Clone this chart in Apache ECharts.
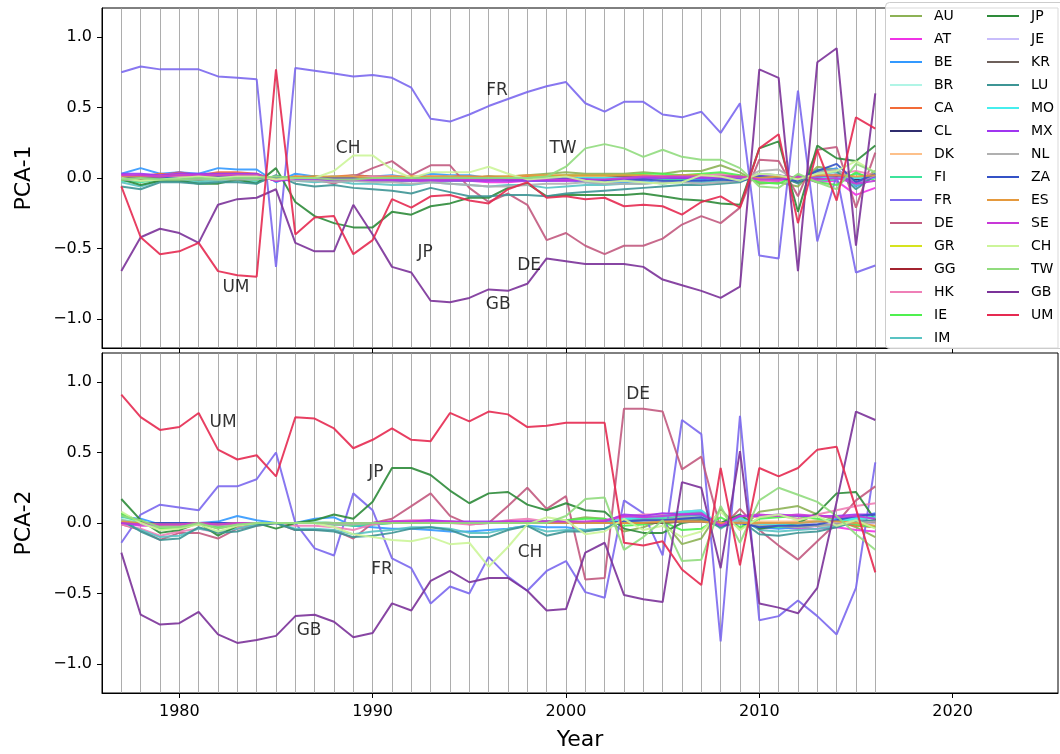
<!DOCTYPE html>
<html>
<head>
<meta charset="utf-8">
<script src="https://cdn.jsdelivr.net/npm/echarts@6/dist/echarts.min.js"></script>
<style>
  html, body { margin: 0; padding: 0; background: #fff; }
  #chart { width: 1060px; height: 754px; }
</style>
</head>
<body>
<div id="chart"></div>
<script>
// years 1977..2016
var years = [1977,1978,1979,1980,1981,1982,1983,1984,1985,1986,1987,1988,1989,1990,1991,1992,1993,1994,1995,1996,
             1997,1998,1999,2000,2001,2002,2003,2004,2005,2006,2007,2008,2009,2010,2011,2012,2013,2014,2015,2016];

var countries = ['AU','AT','BE','BR','CA','CL','DK','FI','FR','DE','GR','GG','HK','IE','IM',
                 'JP','JE','KR','LU','MO','MX','NL','ZA','ES','SE','CH','TW','GB','UM'];

// PCA-1 loadings
var AU1 = [0.01,0.00,-0.01,0.00,0.01,0.00,0.01,0.00, -0.01, 0.00,-0.01,-0.02,-0.01,-0.02,-0.02,-0.01, -0.02,-0.01,0.00,0.01,0.01,0.02,0.03,0.04, 0.03,0.03,0.03,0.04,0.03,0.05,0.05,0.09,0.04, -0.04,-0.03,-0.06,0.08,0.06,-0.04,0.05];
var AT1 = [0.02,0.01,0.02,0.02,0.02,0.02,0.02,0.02, -0.02, 0.01,0.00,0.00,-0.01,-0.01,-0.02,-0.02, -0.02,-0.02,-0.02,-0.03,-0.03,-0.02,-0.02,-0.02, -0.01,-0.01,0.00,0.00,0.01,0.02,0.02,0.01,0.01, -0.02,-0.02,0.01,-0.03,-0.02,-0.12,-0.07];
var BE1 = [0.03,0.07,0.03,0.04,0.03,0.07,0.06,0.06, -0.03, 0.03,0.01,0.00,0.02,0.01,0.02,0.00, 0.03,0.02,0.02,0.00,-0.01,-0.02,-0.02,-0.01, -0.03,-0.04,-0.03,-0.02,-0.04,-0.02,-0.01,-0.03,-0.02, 0.02,0.01,-0.03,0.04,0.07,-0.06,0.01];
var BR1 = [0.01,0.01,0.00,0.01,0.01,0.01,0.00,0.01, -0.01, 0.01,0.00,0.00,0.01,0.00,0.00,0.00, 0.01,0.00,0.00,0.00,0.00,-0.01,0.00,0.00, 0.00,0.00,0.01,0.01,0.01,0.00,0.00,0.00,0.00, 0.01,0.00,0.00,0.01,0.00,0.00,0.01];
var CA1 = [0.02,0.01,0.03,0.02,0.02,0.04,0.04,0.03, -0.02, 0.01,0.00,0.01,0.02,0.01,0.01,0.00, 0.01,0.01,0.01,0.00,0.00,0.01,0.01,0.01, 0.01,0.01,0.00,0.00,0.01,0.00,0.00,0.01,0.00, 0.00,0.00,-0.02,0.01,0.02,-0.01,0.02];
var CL1 = [0.00,0.00,0.00,-0.01,0.00,0.00,0.00,0.00, 0.00, 0.00,0.00,0.00,0.00,-0.01,0.00,0.00, 0.00,0.00,-0.01,0.00,0.00,0.00,0.00,0.00, 0.00,0.00,0.00,0.00,0.00,0.00,0.00,0.00,0.00, 0.00,0.00,-0.03,0.01,0.02,-0.01,0.01];
var DK1 = [0.01,0.00,0.01,0.01,0.00,0.01,0.01,0.01, -0.01, 0.00,0.00,0.01,0.00,0.00,0.01,0.00, 0.00,0.01,0.00,0.00,0.01,0.00,0.00,0.00, 0.01,0.01,0.02,0.02,0.01,0.01,0.01,0.00,0.01, -0.01,0.00,-0.01,0.02,0.01,0.00,0.02];
var FI1 = [-0.02,-0.03,-0.01,-0.01,-0.02,-0.01,-0.01,-0.02, 0.01, 0.00,-0.01,-0.02,-0.01,-0.02,-0.02,-0.02, -0.01,-0.02,-0.02,-0.01,-0.01,0.00,0.00,-0.01, 0.00,-0.01,-0.01,0.00,-0.01,-0.01,0.00,0.00,0.00, 0.01,0.00,0.00,-0.02,-0.01,0.03,0.00];
var FR1 = [0.75,0.79,0.77,0.77,0.77,0.72,0.71,0.70, -0.63, 0.78,0.76,0.74,0.72,0.73,0.71,0.64, 0.42,0.40,0.45,0.51,0.56,0.61,0.65,0.68, 0.53,0.47,0.54,0.54,0.45,0.43,0.47,0.32,0.53, -0.55,-0.57,0.62,-0.45,0.02,-0.67,-0.62];
var DE1 = [0.01,0.02,0.02,0.04,0.02,0.03,0.03,0.02, -0.02, 0.00,-0.01,-0.04,0.01,0.07,0.12,0.02, 0.09,0.09,-0.07,-0.17,-0.11,-0.19,-0.44,-0.39, -0.48,-0.54,-0.48,-0.48,-0.43,-0.33,-0.27,-0.32,-0.21, 0.13,0.12,-0.13,0.20,0.22,-0.21,0.18];
var GR1 = [0.00,0.01,0.00,0.00,0.01,0.00,0.00,0.00, 0.00, 0.00,0.01,0.00,0.00,0.00,0.00,0.01, 0.00,0.00,0.00,0.00,0.00,0.00,0.01,0.00, 0.00,0.00,0.00,0.01,0.00,0.00,0.01,0.00,0.00, 0.00,0.01,0.00,0.00,0.01,0.00,0.00];
var GG1 = [0.00,-0.01,0.01,0.00,0.00,0.01,0.01,0.01, 0.00, 0.00,0.00,0.00,0.00,0.00,0.00,0.00, 0.00,0.00,0.00,0.00,-0.01,0.00,0.00,0.00, 0.00,0.00,0.00,0.00,0.00,0.00,0.00,0.00,0.00, 0.00,0.00,0.00,0.00,0.00,0.00,0.00];
var HK1 = [0.02,0.01,0.02,0.03,0.01,0.02,0.03,0.02, -0.01, 0.00,-0.01,-0.03,0.00,0.01,0.01,0.00, 0.01,0.00,-0.01,0.00,-0.01,0.00,0.00,-0.01, -0.01,-0.02,-0.01,-0.01,0.00,0.01,0.02,0.03,0.01, -0.02,-0.01,0.01,-0.02,0.03,0.05,0.02];
var IE1 = [-0.01,-0.02,0.00,-0.01,-0.01,0.00,0.00,-0.01, 0.01, 0.00,0.00,-0.01,0.00,0.00,-0.01,-0.01, 0.00,0.00,0.00,-0.01,0.00,0.00,0.01,0.02, 0.02,0.02,0.02,0.03,0.03,0.02,0.03,0.04,0.02, -0.03,-0.04,0.02,-0.03,-0.05,0.04,-0.02];
var IM1 = [-0.03,-0.06,-0.02,-0.02,-0.03,-0.02,-0.02,-0.03, 0.01, -0.02,-0.03,-0.02,-0.04,-0.04,-0.05,-0.05, -0.03,-0.04,-0.05,-0.06,-0.05,-0.05,-0.07,-0.06, -0.05,-0.05,-0.04,-0.04,-0.03,-0.03,-0.03,-0.02,-0.02, 0.02,0.02,-0.02,0.03,0.04,-0.05,0.01];
var JP1 = [-0.01,-0.05,-0.02,-0.02,-0.04,-0.04,-0.01,-0.04, 0.07, -0.17,-0.27,-0.32,-0.35,-0.35,-0.24,-0.26, -0.20,-0.18,-0.14,-0.14,-0.07,-0.04,-0.13,-0.12, -0.12,-0.12,-0.12,-0.11,-0.13,-0.15,-0.16,-0.18,-0.19, 0.21,0.26,-0.24,0.23,0.14,0.12,0.23];
var JE1 = [0.01,0.00,0.01,0.01,0.01,0.00,0.01,0.01, -0.01, 0.00,0.00,0.00,0.01,0.00,0.00,0.00, 0.00,0.00,0.00,0.00,0.00,0.00,0.00,0.00, 0.00,0.00,0.00,0.00,0.00,0.00,0.00,0.00,0.00, 0.00,0.00,0.00,0.00,0.00,0.00,0.00];
var KR1 = [0.00,0.01,0.00,0.00,-0.01,0.00,0.00,0.00, 0.00, 0.00,0.01,0.00,0.00,0.00,-0.01,0.00, 0.00,0.00,0.00,0.01,0.00,0.00,0.00,0.00, 0.00,0.00,0.01,0.00,0.00,0.00,0.00,0.01,0.00, 0.00,0.00,-0.01,0.00,0.01,0.00,0.00];
var LU1 = [-0.06,-0.08,-0.03,-0.03,-0.04,-0.03,-0.03,-0.04, 0.02, -0.04,-0.06,-0.05,-0.07,-0.08,-0.09,-0.11, -0.07,-0.10,-0.13,-0.13,-0.12,-0.12,-0.13,-0.11, -0.10,-0.09,-0.08,-0.07,-0.06,-0.05,-0.05,-0.04,-0.03, 0.03,0.02,-0.04,0.06,0.05,-0.08,0.02];
var MO1 = [0.00,0.01,0.00,0.00,0.00,0.01,0.00,0.00, 0.00, 0.00,0.00,0.01,0.00,0.00,0.00,0.00, 0.00,0.01,0.00,0.00,0.00,0.00,0.00,0.00, 0.00,0.00,0.00,0.00,0.00,0.01,0.00,0.00,0.00, 0.00,0.00,0.00,0.01,0.00,0.00,0.00];
var MX1 = [0.03,0.03,0.02,0.03,0.03,0.03,0.03,0.03, -0.02, -0.01,-0.01,-0.02,-0.02,-0.02,-0.02,-0.02, -0.02,-0.02,-0.02,-0.02,-0.02,-0.02,-0.02,-0.02, -0.02,-0.02,-0.01,0.00,0.00,0.00,0.00,0.00,0.00, 0.02,0.02,0.00,0.01,0.02,-0.03,0.01];
var NL1 = [-0.01,-0.02,-0.01,-0.01,-0.01,-0.01,-0.01,-0.01, 0.01, -0.02,-0.02,-0.03,-0.02,-0.03,-0.03,-0.04, -0.03,-0.04,-0.05,-0.06,-0.06,-0.05,-0.04,-0.04, -0.03,-0.04,-0.04,-0.04,-0.03,-0.03,-0.04,-0.03,-0.02, 0.05,0.06,-0.02,0.04,0.06,-0.03,0.02];
var ZA1 = [0.00,0.01,0.00,0.00,0.00,0.01,0.00,0.00, 0.00, 0.00,0.00,0.00,0.00,0.00,0.00,0.00, 0.00,0.00,0.00,0.00,-0.01,-0.01,0.00,0.00, -0.01,-0.02,-0.02,-0.01,-0.02,-0.02,-0.02,-0.01,-0.02, 0.01,0.00,-0.02,0.05,0.10,-0.03,0.03];
var ES1 = [0.01,0.01,0.01,0.02,0.01,0.02,0.02,0.02, -0.01, 0.01,0.01,0.01,0.01,0.00,0.01,0.01, 0.01,0.01,0.01,0.01,0.01,0.02,0.02,0.02, 0.02,0.02,0.02,0.02,0.01,0.02,0.02,0.01,0.01, 0.00,0.01,0.00,0.02,0.02,0.01,0.02];
var SE1 = [0.02,0.02,0.01,0.02,0.02,0.02,0.02,0.02, -0.02, 0.00,0.00,-0.01,-0.01,-0.01,-0.01,-0.01, -0.01,-0.01,-0.01,-0.01,-0.01,-0.01,-0.01,-0.01, -0.01,-0.01,0.00,0.01,0.01,0.01,0.01,0.01,0.01, -0.01,-0.01,0.01,-0.01,0.00,-0.04,-0.02];
var CH1 = [0.00,-0.02,-0.01,0.00,0.01,0.00,0.01,0.01, -0.01, 0.00,0.00,0.05,0.16,0.16,0.06,0.00, 0.04,0.04,0.04,0.08,0.03,-0.01,0.00,0.01, -0.02,-0.03,-0.02,-0.03,-0.04,-0.03,0.02,0.01,-0.02, 0.03,0.02,-0.01,0.03,0.05,0.12,0.04];
var TW1 = [-0.01,0.00,-0.01,-0.01,0.00,-0.01,0.00,0.00, 0.01, 0.00,0.00,-0.01,-0.01,0.00,0.00,0.00, 0.00,0.00,0.00,0.00,0.00,0.00,0.01,0.08, 0.21,0.24,0.21,0.15,0.20,0.15,0.13,0.13,0.07, -0.06,-0.07,0.03,-0.03,-0.08,0.10,0.04];
var GB1 = [-0.66,-0.42,-0.36,-0.39,-0.46,-0.19,-0.15,-0.14, -0.08, -0.46,-0.52,-0.52,-0.19,-0.40,-0.63,-0.67, -0.87,-0.88,-0.85,-0.79,-0.80,-0.75,-0.57,-0.59, -0.61,-0.61,-0.61,-0.63,-0.72,-0.76,-0.80,-0.85,-0.77, 0.77,0.71,-0.66,0.82,0.92,-0.48,0.60];
var UM1 = [-0.06,-0.42,-0.54,-0.52,-0.46,-0.66,-0.69,-0.70, 0.77, -0.40,-0.28,-0.27,-0.54,-0.44,-0.15,-0.21, -0.13,-0.12,-0.16,-0.18,-0.08,-0.03,-0.14,-0.13, -0.15,-0.14,-0.20,-0.19,-0.20,-0.26,-0.17,-0.13,-0.21, 0.21,0.31,-0.32,0.20,-0.16,0.43,0.35];

// PCA-2 loadings
var AU2 = [0.06,0.00,-0.04,-0.03,0.00,-0.04,-0.01,0.00, 0.00, 0.00,0.01,0.00,-0.02,-0.01,0.00,0.00, 0.00,0.01,0.00,0.00,0.01,0.00,0.01,0.02, 0.04,0.03,-0.06,-0.03,0.02,-0.15,-0.11,0.10,-0.05, 0.08,0.10,0.12,0.06,0.02,-0.03,-0.10];
var AT2 = [0.00,-0.02,-0.02,-0.01,0.00,-0.02,0.00,0.00, 0.00, 0.00,0.00,0.00,0.00,0.00,0.00,0.00, 0.00,0.00,0.00,0.00,0.00,0.00,0.00,0.00, 0.00,0.00,0.04,0.03,0.05,0.06,0.08,-0.03,0.04, -0.04,-0.03,-0.04,-0.04,-0.03,-0.05,-0.06];
var BE2 = [0.04,0.03,-0.01,-0.01,0.00,0.01,0.05,0.02, 0.00, 0.00,0.03,0.04,-0.02,-0.03,-0.04,-0.04, -0.05,-0.06,-0.06,-0.05,-0.04,-0.02,-0.03,-0.03, -0.05,-0.04,0.01,0.01,0.02,0.05,0.06,-0.02,0.02, -0.03,-0.04,-0.03,-0.02,0.03,0.04,0.07];
var BR2 = [0.03,0.01,-0.01,0.00,0.00,-0.01,0.00,0.00, 0.00, 0.00,0.01,0.00,0.00,0.00,0.00,0.00, 0.00,0.00,0.00,0.00,0.00,0.00,0.00,0.00, 0.00,0.00,0.02,0.02,0.03,0.04,0.04,-0.01,0.02, -0.01,-0.02,-0.01,-0.01,0.00,0.01,0.00];
var CA2 = [0.01,-0.01,-0.02,-0.02,-0.01,-0.02,-0.01,0.00, 0.00, 0.00,0.00,0.00,0.00,0.00,0.00,0.00, 0.00,0.00,0.00,0.00,0.00,0.00,0.00,0.00, 0.00,0.00,0.01,0.01,0.01,0.02,0.02,0.00,0.01, 0.00,0.00,0.01,0.01,0.00,-0.02,-0.03];
var CL2 = [0.00,0.00,0.00,0.00,0.00,0.00,0.00,0.00, 0.00, 0.00,0.00,0.00,0.00,0.00,0.00,0.00, 0.00,0.00,0.00,0.00,0.00,0.00,0.00,0.00, 0.00,0.00,0.01,0.01,0.01,0.01,0.02,0.00,0.01, -0.02,-0.02,-0.02,-0.01,0.00,0.00,0.02];
var DK2 = [0.02,0.00,-0.01,-0.01,0.00,-0.01,0.00,0.00, 0.00, 0.00,0.00,0.00,0.00,0.00,0.00,0.00, 0.00,0.00,0.00,0.00,0.00,0.00,0.00,0.00, 0.00,0.00,0.01,0.01,0.02,0.02,0.03,-0.01,0.02, 0.01,0.01,0.01,0.02,0.01,0.00,0.01];
var FI2 = [0.05,0.01,-0.03,-0.02,0.00,-0.03,-0.01,0.00, 0.00, 0.00,0.00,-0.01,-0.02,-0.01,0.00,0.00, 0.00,0.00,0.00,0.00,0.00,0.00,0.00,0.00, 0.00,0.00,0.02,0.03,0.03,0.05,0.06,-0.02,0.03, -0.02,-0.03,-0.02,-0.02,0.01,0.03,0.05];
var FR2 = [-0.14,0.06,0.13,0.11,0.09,0.26,0.26,0.31, 0.50, 0.00,-0.18,-0.23,0.21,0.09,-0.25,-0.32, -0.57,-0.45,-0.50,-0.24,-0.38,-0.48,-0.34,-0.27, -0.49,-0.53,0.16,0.07,-0.23,0.73,0.63,-0.84,0.76, -0.69,-0.66,-0.55,-0.66,-0.79,-0.46,0.43];
var DE2 = [-0.01,-0.05,-0.12,-0.07,-0.07,-0.11,-0.04,-0.02, 0.00, -0.05,-0.05,-0.05,-0.11,0.00,0.03,0.12, 0.21,0.05,-0.01,0.00,0.12,0.25,0.10,0.19, -0.40,-0.39,0.81,0.81,0.79,0.38,0.47,-0.04,0.10, -0.05,-0.16,-0.26,-0.13,0.00,0.16,0.26];
var GR2 = [0.02,0.00,-0.01,0.00,0.00,-0.01,0.00,0.00, 0.00, 0.00,0.00,0.00,0.00,0.00,0.00,0.00, 0.00,0.00,0.00,0.00,0.00,0.00,0.00,0.00, 0.00,0.00,0.01,0.00,0.01,0.01,0.02,0.00,0.01, 0.00,0.00,0.00,0.00,0.00,0.00,0.00];
var GG2 = [0.01,0.00,0.00,0.00,0.00,0.00,0.00,0.00, 0.00, 0.00,0.00,0.00,0.00,0.00,0.00,0.00, 0.00,0.00,0.00,0.00,0.00,0.00,0.00,0.00, 0.00,0.00,0.00,0.00,0.00,0.01,0.01,0.00,0.00, 0.00,0.00,0.00,0.00,0.00,0.00,0.00];
var HK2 = [-0.01,-0.04,-0.09,-0.06,-0.04,-0.07,-0.03,-0.01, 0.00, -0.02,-0.02,-0.03,-0.05,-0.01,0.01,0.02, 0.02,0.00,-0.01,0.00,0.02,0.03,0.01,0.02, 0.00,0.01,0.05,0.06,0.06,0.08,0.09,-0.03,0.05, 0.04,0.05,0.03,0.06,0.09,0.12,0.14];
var IE2 = [0.07,0.01,-0.04,-0.03,0.00,-0.03,-0.01,0.00, 0.00, 0.00,0.00,-0.01,-0.01,0.00,0.00,0.00, 0.00,0.00,0.00,0.00,0.00,0.01,0.01,0.02, 0.03,0.03,-0.02,-0.01,0.01,-0.05,-0.04,0.04,-0.03, 0.03,0.04,0.05,0.03,0.01,-0.01,-0.03];
var IM2 = [0.01,-0.05,-0.10,-0.09,-0.04,-0.06,-0.04,-0.01, 0.00, -0.04,-0.04,-0.05,-0.08,-0.06,-0.05,-0.03, -0.03,-0.04,-0.07,-0.07,-0.04,-0.02,-0.06,-0.05, -0.05,-0.04,0.03,0.03,0.04,0.07,0.08,-0.04,0.04, -0.05,-0.06,-0.05,-0.04,-0.02,0.02,0.04];
var JP2 = [0.17,0.02,-0.07,-0.05,0.00,-0.09,-0.02,0.00, -0.04, 0.00,0.02,0.06,0.03,0.15,0.39,0.39, 0.34,0.23,0.14,0.21,0.22,0.13,0.09,0.14, 0.09,0.08,-0.04,-0.07,-0.07,0.00,0.02,0.00,0.06, -0.04,-0.02,0.00,0.07,0.21,0.22,0.02];
var JE2 = [0.01,0.00,0.00,0.00,0.00,0.00,0.00,0.00, 0.00, 0.00,0.00,0.00,0.00,0.00,0.00,0.00, 0.00,0.00,0.00,0.00,0.00,0.00,0.00,0.00, 0.00,0.00,0.00,0.01,0.01,0.01,0.01,0.00,0.00, 0.00,0.00,0.00,0.00,0.00,0.00,0.00];
var KR2 = [0.00,0.00,0.00,0.00,0.00,0.00,0.00,0.00, 0.00, 0.00,0.00,0.00,0.00,0.00,0.00,0.00, 0.00,0.00,0.00,0.00,0.00,0.00,0.00,0.00, 0.00,0.00,0.00,0.00,0.00,0.01,0.01,-0.01,0.00, -0.02,-0.02,-0.03,-0.02,-0.01,0.00,0.01];
var LU2 = [0.02,-0.06,-0.12,-0.11,-0.03,-0.07,-0.06,-0.02, 0.00, -0.05,-0.05,-0.06,-0.10,-0.09,-0.07,-0.04, -0.03,-0.05,-0.10,-0.10,-0.05,-0.02,-0.09,-0.06, -0.06,-0.04,0.01,0.02,0.02,0.03,0.03,-0.03,0.02, -0.08,-0.09,-0.07,-0.06,-0.03,0.01,0.02];
var MO2 = [0.02,0.00,-0.01,-0.01,0.00,-0.01,0.00,0.00, 0.00, 0.00,0.00,0.00,0.00,0.00,0.00,0.00, 0.00,0.00,0.00,0.00,0.00,0.00,0.00,0.00, 0.00,0.00,0.03,0.04,0.05,0.08,0.09,-0.02,0.03, -0.01,-0.01,0.00,0.01,0.02,0.03,0.04];
var MX2 = [0.00,-0.01,-0.01,0.00,0.00,0.00,0.00,0.00, 0.00, 0.00,0.00,0.00,0.00,0.00,0.01,0.01, 0.02,0.01,0.01,0.01,0.01,0.01,0.01,0.01, 0.00,0.01,0.06,0.05,0.07,0.06,0.06,-0.01,0.05, 0.05,0.06,0.05,0.05,0.05,0.06,0.06];
var NL2 = [0.02,-0.01,-0.03,-0.02,0.00,-0.02,-0.01,0.00, 0.00, 0.00,0.00,-0.01,-0.01,0.00,0.00,0.00, 0.00,0.00,0.00,0.00,0.00,0.00,0.00,0.00, 0.00,0.00,0.01,0.02,0.02,0.04,0.04,-0.02,0.02, -0.02,-0.02,-0.03,-0.02,-0.01,0.00,0.01];
var ZA2 = [0.00,0.00,0.00,0.00,0.00,0.00,0.00,0.00, 0.00, 0.00,0.00,0.00,0.00,0.00,0.00,0.00, 0.00,0.00,0.00,0.00,0.00,0.00,0.00,0.00, 0.00,0.00,0.01,0.02,0.02,0.03,0.04,-0.02,0.00, -0.03,-0.02,-0.02,-0.01,0.02,0.05,0.06];
var ES2 = [0.01,0.00,-0.01,-0.01,0.00,-0.01,0.00,0.00, 0.00, 0.00,0.00,0.00,0.00,0.00,0.00,0.00, 0.00,0.00,0.00,0.00,0.00,0.00,0.00,0.00, 0.00,0.00,0.00,0.00,0.01,0.01,0.01,0.00,0.00, 0.00,0.00,0.00,0.01,0.01,0.00,-0.02];
var SE2 = [0.00,-0.01,-0.01,-0.01,0.00,-0.01,0.00,0.00, 0.00, 0.00,0.00,0.00,0.00,0.00,0.01,0.01, 0.01,0.01,0.00,0.00,0.01,0.01,0.01,0.01, 0.01,0.02,0.05,0.04,0.05,0.06,0.07,-0.02,0.05, 0.06,0.05,0.06,0.05,0.04,0.05,0.03];
var CH2 = [0.08,0.00,-0.05,-0.04,-0.01,-0.06,-0.02,0.00, 0.00, 0.00,0.00,-0.03,-0.08,-0.10,-0.12,-0.13, -0.10,-0.15,-0.14,-0.31,-0.17,-0.01,0.04,0.02, -0.08,-0.06,0.03,-0.05,-0.02,-0.10,-0.06,0.08,-0.05, 0.04,0.06,0.02,0.05,-0.02,0.02,-0.04];
var TW2 = [0.05,0.02,-0.03,-0.03,0.00,-0.04,-0.01,0.00, 0.00, 0.00,0.00,0.00,0.00,0.00,0.00,0.00, 0.00,0.00,0.00,0.00,0.00,0.00,0.00,0.05, 0.17,0.18,-0.19,-0.10,0.02,-0.27,-0.26,0.12,-0.14, 0.16,0.25,0.20,0.15,0.05,-0.08,-0.19];
var GB2 = [-0.21,-0.65,-0.72,-0.71,-0.63,-0.79,-0.85,-0.83, -0.80, -0.66,-0.65,-0.70,-0.81,-0.78,-0.57,-0.62, -0.41,-0.34,-0.42,-0.39,-0.39,-0.48,-0.62,-0.61, -0.21,-0.14,-0.51,-0.54,-0.56,0.29,0.25,-0.32,0.51, -0.57,-0.60,-0.64,-0.46,0.15,0.79,0.73];
var UM2 = [0.91,0.75,0.66,0.68,0.78,0.52,0.45,0.48, 0.33, 0.75,0.74,0.67,0.53,0.59,0.67,0.59, 0.58,0.78,0.72,0.79,0.77,0.68,0.69,0.71, 0.71,0.71,-0.14,-0.16,-0.13,-0.33,-0.44,0.39,-0.30, 0.39,0.33,0.39,0.52,0.54,0.10,-0.35];

var pca1 = [AU1,AT1,BE1,BR1,CA1,CL1,DK1,FI1,FR1,DE1,GR1,GG1,HK1,IE1,IM1,JP1,JE1,KR1,LU1,MO1,MX1,NL1,ZA1,ES1,SE1,CH1,TW1,GB1,UM1];
var pca2 = [AU2,AT2,BE2,BR2,CA2,CL2,DK2,FI2,FR2,DE2,GR2,GG2,HK2,IE2,IM2,JP2,JE2,KR2,LU2,MO2,MX2,NL2,ZA2,ES2,SE2,CH2,TW2,GB2,UM2];

// text labels placed on the panels: [year, value, text]
var notes1 = [[1996.43,0.62,'FR'],[1988.73,0.21,'CH'],[1999.85,0.21,'TW'],[1992.71,-0.53,'JP'],
              [1998.09,-0.62,'DE'],[1982.93,-0.78,'UM'],[1996.49,-0.90,'GB']];
var notes2 = [[1982.26,0.71,'UM'],[1990.17,0.36,'JP'],[2003.73,0.91,'DE'],[1998.14,-0.21,'CH'],
              [1990.49,-0.33,'FR'],[1986.71,-0.76,'GB']];

var yTicks = [-1, -0.5, 0, 0.5, 1];
var xTicks = [1980, 1990, 2000, 2010, 2020];

var colors = ['#8db255','#f032e6','#3399ff','#b0f5e6','#f26b38','#2f2c6e','#fdc08a','#3de39b','#7b68ee','#c25a80',
              '#d6e31e','#a3232f','#ef7fb7','#4ff04f','#59c3c3','#2e8b3a','#c8bdfb','#6d605b','#3d9595','#46eeee',
              '#a035f0','#b0b0b0','#3452c6','#e5993d','#c838d8','#ccf599','#91dc7e','#7b3299','#e62a51'];

var FONT = 'DejaVu Sans';

function fmt(v) {
  return v.toFixed(1).replace('-', '\u2212');
}

function makeX(idx) {
  return {
    type: 'value', gridIndex: idx, min: 1976, max: 2025.45,
    name: idx == 1 ? 'Year' : '', nameLocation: 'middle', nameGap: 36,
    nameTextStyle: {fontSize: 22, color: '#000', fontFamily: FONT},
    axisLine: {show: true, onZero: false, lineStyle: {color: '#000', width: 1}},
    axisTick: {show: true, length: 5, customValues: xTicks, lineStyle: {color: '#000'}},
    axisLabel: {show: idx == 1, customValues: xTicks, margin: 11, fontSize: 16, color: '#000', fontFamily: FONT,
                formatter: function (v) { return String(v); }},
    splitLine: {show: false}
  };
}

function makeY(idx) {
  return {
    type: 'value', gridIndex: idx, min: -1.205, max: 1.205,
    name: idx == 0 ? 'PCA-1' : 'PCA-2', nameLocation: 'middle', nameGap: 67,
    nameTextStyle: {fontSize: 22, color: '#000', fontFamily: FONT},
    axisLine: {show: true, lineStyle: {color: '#000', width: 1}},
    axisTick: {show: true, length: 5, customValues: yTicks, lineStyle: {color: '#000'}},
    axisLabel: {customValues: yTicks, margin: 10, fontSize: 16, color: '#000', fontFamily: FONT, formatter: fmt},
    splitLine: {show: false}
  };
}

var series = [];
[0, 1].forEach(function (k) {
  // year grid lines
  series.push({
    type: 'line', xAxisIndex: k, yAxisIndex: k, data: [], silent: true, z: 1,
    markLine: {
      silent: true, symbol: ['none', 'none'], z: 1, animation: false,
      label: {show: false},
      lineStyle: {color: '#999', width: 1, type: 'solid', opacity: 0.8},
      data: years.map(function (y) { return {xAxis: y}; })
    }
  });
  var block = k == 0 ? pca1 : pca2;
  countries.forEach(function (c, i) {
    series.push({
      type: 'line', name: c, xAxisIndex: k, yAxisIndex: k, z: 2,
      symbol: 'none', animation: false,
      lineStyle: {width: 2, color: colors[i], opacity: 0.9},
      itemStyle: {color: colors[i]},
      emphasis: {disabled: true},
      data: years.map(function (y, j) { return [y, block[i][j]]; })
    });
  });
  var notes = k == 0 ? notes1 : notes2;
  series.push({
    type: 'scatter', xAxisIndex: k, yAxisIndex: k, silent: true, z: 10, symbolSize: 1,
    itemStyle: {color: 'rgba(0,0,0,0)'},
    label: {show: true, position: 'inside', formatter: '{b}', fontSize: 17, color: '#000', fontFamily: FONT},
    data: notes.map(function (n) { return {name: n[2], value: [n[0], n[1]]}; })
  });
});

function makeLegend(items, left) {
  return {
    data: items, left: left, top: 9, orient: 'vertical', padding: 0,
    icon: 'rect', itemWidth: 32, itemHeight: 2, itemGap: 9,
    textStyle: {fontSize: 14, lineHeight: 14, color: '#000', fontFamily: FONT, padding: [0, 0, 0, 7]}
  };
}

var chart = echarts.init(document.getElementById('chart'));
chart.setOption({
  animation: false,
  textStyle: {fontFamily: FONT},
  grid: [
    {left: 102, top: 8, width: 956, height: 340, show: true, borderColor: '#000', borderWidth: 1, backgroundColor: 'transparent'},
    {left: 102, top: 353, width: 956, height: 340, show: true, borderColor: '#000', borderWidth: 1, backgroundColor: 'transparent'}
  ],
  xAxis: [makeX(0), makeX(1)],
  yAxis: [makeY(0), makeY(1)],
  legend: [makeLegend(countries.slice(0, 15), 890), makeLegend(countries.slice(15), 987)],
  graphic: [{
    type: 'rect', left: 885, top: 2, z: 3, silent: true,
    shape: {width: 180, height: 346, r: 4},
    style: {fill: 'rgba(255,255,255,0.85)', stroke: '#cccccc', lineWidth: 1}
  }],
  series: series
});
</script>
</body>
</html>
